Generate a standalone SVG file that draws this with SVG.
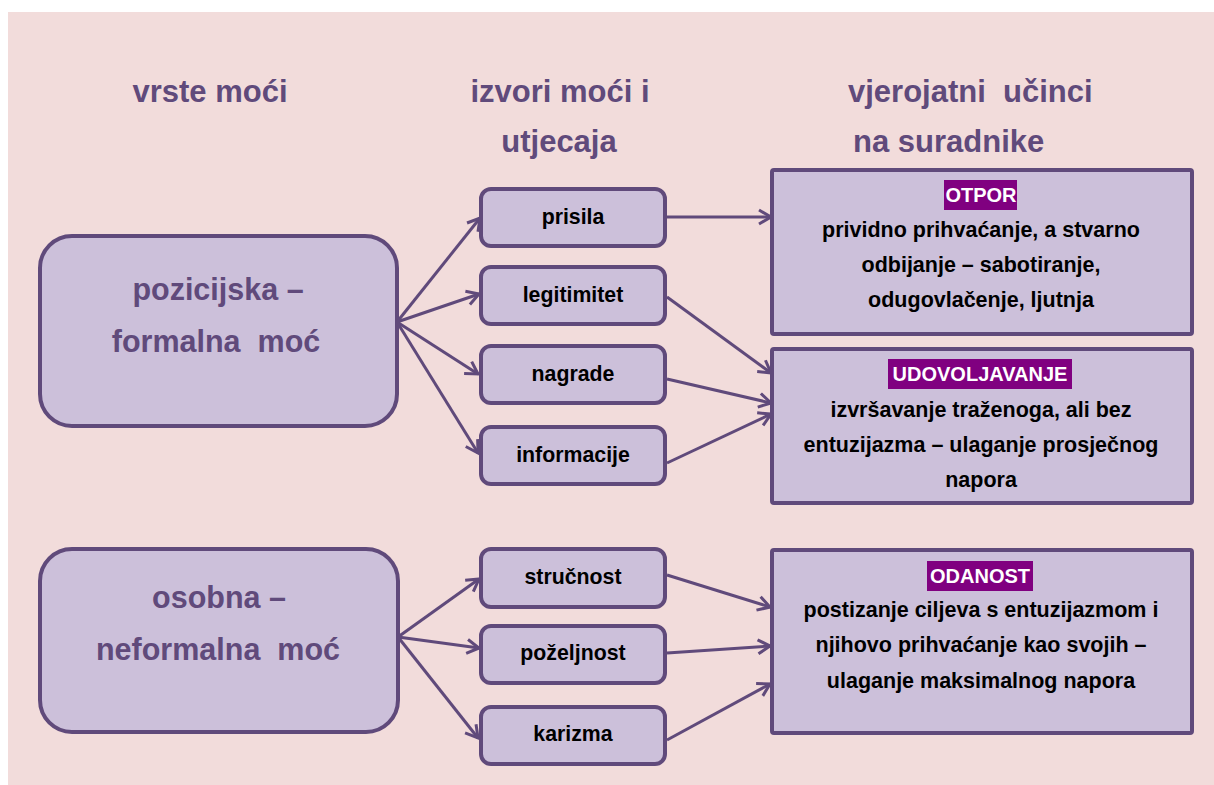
<svg xmlns="http://www.w3.org/2000/svg" width="1214" height="785" viewBox="0 0 1214 785">
<defs>
<style>
.bg{fill:#F2DCDB}
.big{fill:#CCC0DA;stroke:#604A7B;stroke-width:4}
.mid{fill:#CCC0DA;stroke:#604A7B;stroke-width:4}
.res{fill:#CCC0DA;stroke:#604A7B;stroke-width:4}
.hdr{font-family:"Liberation Sans",Arial,sans-serif;font-weight:bold;font-size:31px;fill:#604A7B;white-space:pre}
.bigt{font-family:"Liberation Sans",Arial,sans-serif;font-weight:bold;font-size:30.5px;fill:#604A7B;text-anchor:middle;white-space:pre}
.midt{font-family:"Liberation Sans",Arial,sans-serif;font-weight:bold;font-size:21.3px;fill:#000;text-anchor:middle}
.rest{font-family:"Liberation Sans",Arial,sans-serif;font-weight:bold;font-size:21.5px;fill:#000;text-anchor:middle}
.lab{fill:#800080}
.labt{font-family:"Liberation Sans",Arial,sans-serif;font-weight:bold;font-size:20px;fill:#fff;text-anchor:middle}
.conn line{stroke:#604A7B;stroke-width:3;marker-end:url(#arr)}
</style>
<marker id="arr" markerUnits="userSpaceOnUse" markerWidth="18" markerHeight="18" viewBox="0 0 18 18" refX="15" refY="9" orient="auto">
<path d="M3,2 L15,9 L3,16" fill="none" stroke="#604A7B" stroke-width="3" stroke-linejoin="miter"/>
</marker>
</defs>
<rect class="bg" x="8" y="12" width="1206" height="773"/>

<g id="headers">
<text class="hdr" x="210" y="102" text-anchor="middle">vrste moći</text>
<text class="hdr" x="560" y="102" text-anchor="middle">izvori moći i</text>
<text class="hdr" x="559" y="152" text-anchor="middle">utjecaja</text>
<text class="hdr" x="848" y="102" xml:space="preserve">vjerojatni  učinci</text>
<text class="hdr" x="853" y="152">na suradnike</text>
</g>

<g id="connectors" class="conn">
<line x1="397" y1="322" x2="480" y2="218"/>
<line x1="397" y1="322" x2="479" y2="294"/>
<line x1="397" y1="322" x2="478" y2="374"/>
<line x1="397" y1="322" x2="478" y2="453"/>
<line x1="398" y1="637" x2="479" y2="579"/>
<line x1="398" y1="637" x2="479" y2="648"/>
<line x1="398" y1="637" x2="478" y2="738"/>
<line x1="666" y1="217" x2="771" y2="217"/>
<line x1="667" y1="297" x2="771" y2="373"/>
<line x1="667" y1="379" x2="771" y2="403"/>
<line x1="667" y1="463" x2="771" y2="414"/>
<line x1="667" y1="575" x2="770" y2="607"/>
<line x1="667" y1="653" x2="770" y2="646"/>
<line x1="667" y1="740" x2="770" y2="684"/>
</g>

<g id="node-pozicijska">
<rect class="big" x="40" y="236" width="357" height="190" rx="32"/>
<text class="bigt" x="218" y="300">pozicijska –</text>
<text class="bigt" x="216" y="352" xml:space="preserve">formalna  moć</text>
</g>
<g id="node-osobna">
<rect class="big" x="40" y="549" width="358" height="183" rx="32"/>
<text class="bigt" x="219" y="608">osobna –</text>
<text class="bigt" x="218" y="660" xml:space="preserve">neformalna  moć</text>
</g>

<g id="node-prisila">
<rect class="mid" x="481" y="189" width="184" height="57" rx="10"/>
<text class="midt" x="573" y="224">prisila</text>
</g>
<g id="node-legitimitet">
<rect class="mid" x="481" y="267" width="184" height="57" rx="10"/>
<text class="midt" x="573" y="302">legitimitet</text>
</g>
<g id="node-nagrade">
<rect class="mid" x="481" y="346" width="184" height="57" rx="10"/>
<text class="midt" x="573" y="381">nagrade</text>
</g>
<g id="node-informacije">
<rect class="mid" x="481" y="427" width="184" height="57" rx="10"/>
<text class="midt" x="573" y="462">informacije</text>
</g>
<g id="node-strucnost">
<rect class="mid" x="481" y="549" width="184" height="58" rx="10"/>
<text class="midt" x="573" y="584">stručnost</text>
</g>
<g id="node-pozeljnost">
<rect class="mid" x="481" y="626" width="184" height="57" rx="10"/>
<text class="midt" x="573" y="660">poželjnost</text>
</g>
<g id="node-karizma">
<rect class="mid" x="481" y="707" width="184" height="57" rx="10"/>
<text class="midt" x="573" y="741">karizma</text>
</g>

<g id="node-otpor">
<rect class="res" x="772" y="170" width="420" height="164" rx="2"/>
<rect class="lab" x="944" y="180" width="73" height="30"/>
<text class="labt" x="981" y="202">OTPOR</text>
<text class="rest" x="981" y="237">prividno prihvaćanje, a stvarno</text>
<text class="rest" x="981" y="272">odbijanje – sabotiranje,</text>
<text class="rest" x="981" y="307">odugovlačenje, ljutnja</text>
</g>
<g id="node-udovoljavanje">
<rect class="res" x="772" y="349" width="420" height="154" rx="2"/>
<rect class="lab" x="888" y="359" width="184" height="30"/>
<text class="labt" x="980" y="381">UDOVOLJAVANJE</text>
<text class="rest" x="981" y="417">izvršavanje traženoga, ali bez</text>
<text class="rest" x="981" y="452">entuzijazma – ulaganje prosječnog</text>
<text class="rest" x="981" y="487">napora</text>
</g>
<g id="node-odanost">
<rect class="res" x="772" y="550" width="420" height="183" rx="2"/>
<rect class="lab" x="927" y="561" width="106" height="30"/>
<text class="labt" x="980" y="583">ODANOST</text>
<text class="rest" x="981" y="617">postizanje ciljeva s entuzijazmom i</text>
<text class="rest" x="981" y="652">njihovo prihvaćanje kao svojih –</text>
<text class="rest" x="981" y="688">ulaganje maksimalnog napora</text>
</g>
</svg>
